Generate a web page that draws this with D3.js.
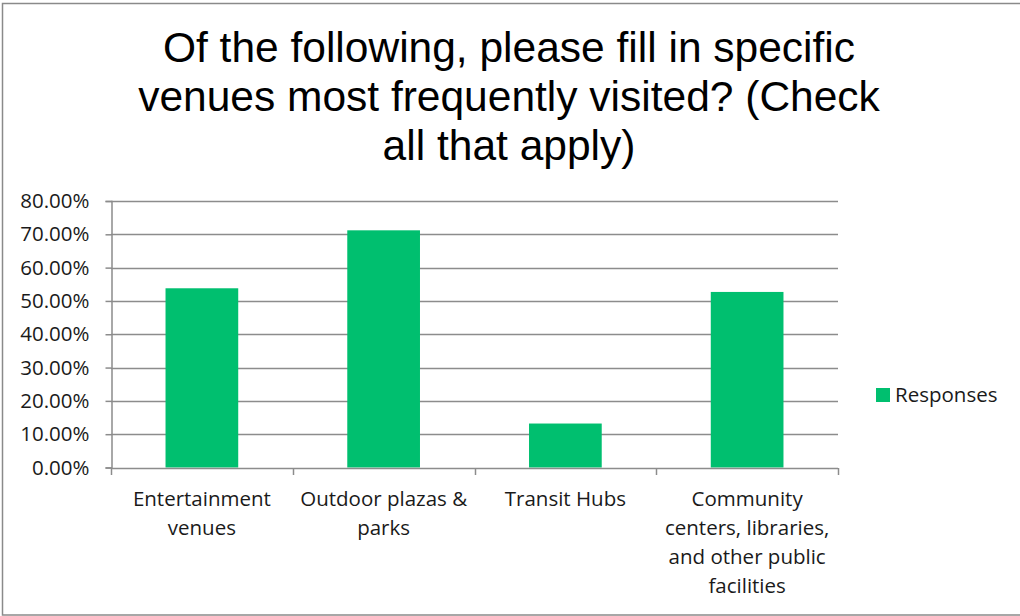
<!DOCTYPE html>
<html>
<head>
<meta charset="utf-8">
<script src="https://cdn.jsdelivr.net/npm/d3@7"></script>
<style>
  html, body { margin: 0; padding: 0; background: #fff; }
  svg { display: block; }
</style>
</head>
<body>
<svg id="chart" width="1020" height="616"></svg>
<script>
// ---- data ----
const categories = ["Entertainment venues", "Outdoor plazas & parks", "Transit Hubs", "Community centers, libraries, and other public facilities"];
const categoryLines = [
  ["Entertainment", "venues"],
  ["Outdoor plazas &", "parks"],
  ["Transit Hubs"],
  ["Community", "centers, libraries,", "and other public", "facilities"]
];
const responses = [0.538, 0.712, 0.132, 0.527];
const yTicks = [0, 0.1, 0.2, 0.3, 0.4, 0.5, 0.6, 0.7, 0.8];
const titleLines = ["Of the following, please fill in specific", "venues most frequently visited? (Check", "all that apply)"];
const seriesName = "Responses";

// ---- layout ----
const svg = d3.select("#chart");
const W = 1020, H = 616;
const plot = { left: 111, right: 838, top: 201, bottom: 467.5 };
const green = "#00bf6f";
const gridColor = "#8c8c8c";
const textColor = "#1a1a1a";
const labelFont = "'Open Sans', 'Noto Sans', sans-serif";

// outer border
svg.append("rect")
  .attr("x", 2.5).attr("y", 3.5)
  .attr("width", W + 10).attr("height", 611.5)
  .attr("fill", "#fff").attr("stroke", "#8a8a8a").attr("stroke-width", 1.5);

// title
svg.append("g").selectAll("text")
  .data(titleLines).join("text")
  .attr("x", 509)
  .attr("y", (d, i) => 62 + i * 49)
  .attr("text-anchor", "middle")
  .attr("font-family", "'Liberation Sans', Arial, sans-serif")
  .attr("font-size", 42.5)
  .attr("fill", "#000")
  .text(d => d);

// scales
const x = d3.scaleBand().domain(categories)
  .range([plot.left, plot.right])
  .paddingInner(0.6).paddingOuter(0.3);
const y = d3.scaleLinear().domain([0, 0.8]).range([plot.bottom, plot.top]);

// gridlines
svg.append("g").selectAll("line")
  .data(yTicks.filter(d => d > 0)).join("line")
  .attr("x1", plot.left).attr("x2", plot.right)
  .attr("y1", d => Math.round(y(d)) + 0.5).attr("y2", d => Math.round(y(d)) + 0.5)
  .attr("stroke", gridColor).attr("stroke-width", 1.5);

// y axis
const yAxis = svg.append("g")
  .attr("transform", `translate(${plot.left + 0.5},0)`)
  .call(d3.axisLeft(y).tickValues(yTicks).tickFormat(d => (d * 100).toFixed(2) + "%").tickSizeOuter(0).tickSize(6).tickPadding(16));
yAxis.selectAll("path, line").attr("stroke", gridColor).attr("stroke-width", 1.5);
yAxis.selectAll("text")
  .attr("font-family", labelFont).attr("font-size", 20.5).attr("fill", textColor);

// bars
svg.append("g").selectAll("rect")
  .data(categories).join("rect")
  .attr("x", d => x(d))
  .attr("y", (d, i) => y(responses[i]))
  .attr("width", x.bandwidth())
  .attr("height", (d, i) => y(0) - y(responses[i]))
  .attr("fill", green);

// x axis line and ticks at category boundaries
const boundaries = categories.map(c => x(c) - x.step() * x.paddingInner() / 2 - (x(c) === x(categories[0]) ? x.step() * (x.paddingOuter() - x.paddingInner() / 2) : 0));
const edges = [plot.left].concat(categories.map(c => x(c) + x.bandwidth() + (x.step() - x.bandwidth()) / 2));
const xg = svg.append("g");
xg.append("line")
  .attr("x1", plot.left).attr("x2", plot.right)
  .attr("y1", Math.round(y(0)) + 0.5).attr("y2", Math.round(y(0)) + 0.5)
  .attr("stroke", gridColor).attr("stroke-width", 1.5);
xg.selectAll("line.tick")
  .data(edges).join("line").attr("class", "tick")
  .attr("x1", d => Math.round(d) + 0.5).attr("x2", d => Math.round(d) + 0.5)
  .attr("y1", Math.round(y(0))).attr("y2", Math.round(y(0)) + 7)
  .attr("stroke", gridColor).attr("stroke-width", 1.5);

// category labels
const catG = svg.append("g");
categories.forEach((c, i) => {
  const t = catG.append("text")
    .attr("text-anchor", "middle")
    .attr("font-family", labelFont).attr("font-size", 20.5).attr("fill", textColor);
  categoryLines[i].forEach((ln, j) => {
    t.append("tspan")
      .attr("x", x(c) + x.bandwidth() / 2)
      .attr("y", 506 + j * 29)
      .text(ln);
  });
});

// legend
const lg = svg.append("g");
lg.append("rect").attr("x", 876).attr("y", 388).attr("width", 14).attr("height", 14).attr("fill", green);
lg.append("text").attr("x", 895).attr("y", 402)
  .attr("font-family", labelFont).attr("font-size", 20.5).attr("fill", textColor)
  .text(seriesName);
</script>
</body>
</html>
